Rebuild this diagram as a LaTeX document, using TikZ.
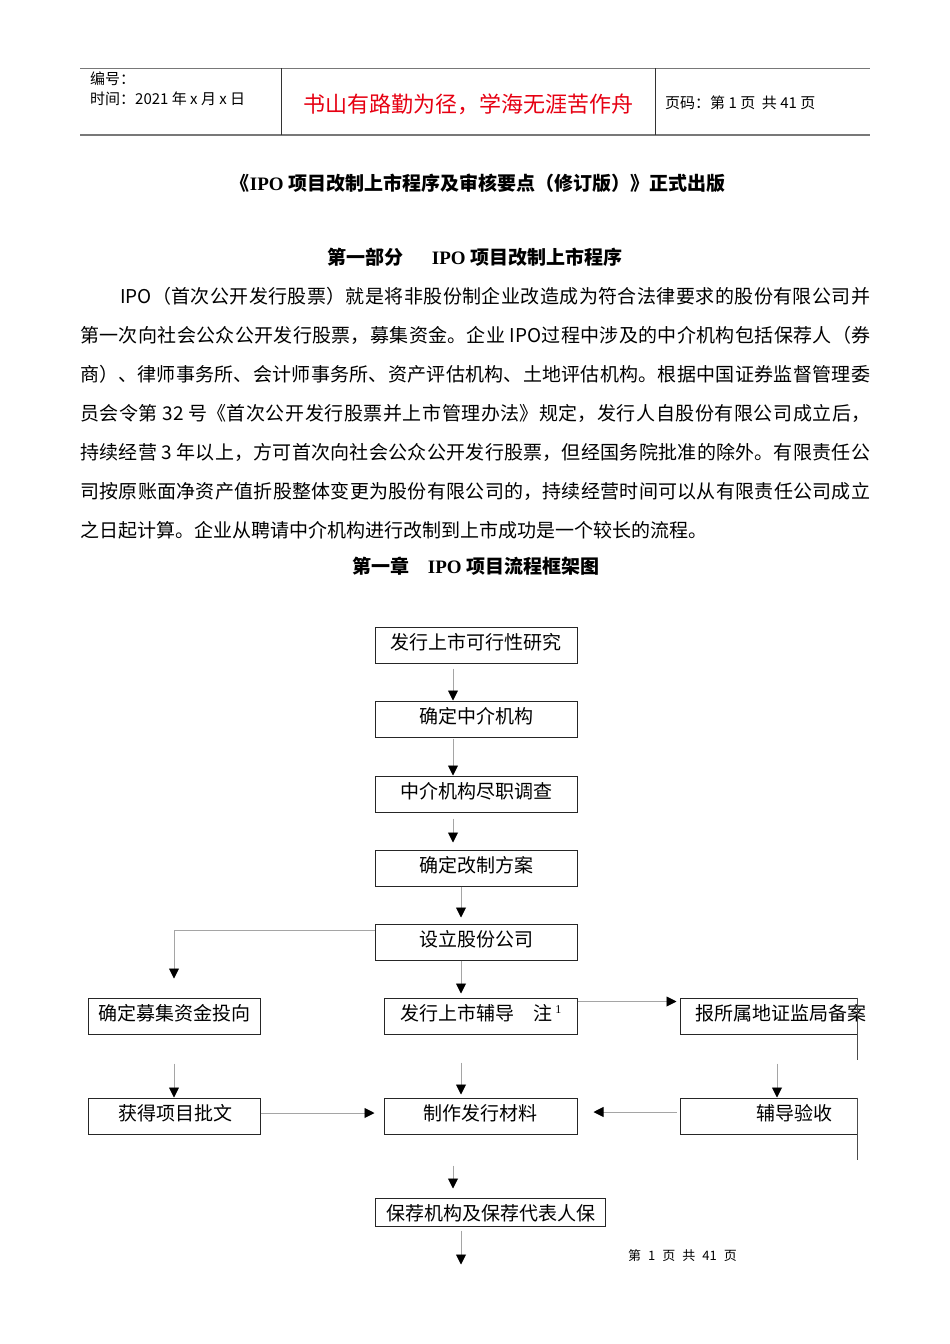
\documentclass[tikz,border=0pt]{standalone}
\usepackage{fontspec}
\setmainfont{Noto Sans CJK SC}
\newfontfamily\lser{Liberation Serif}
\XeTeXlinebreaklocale "zh"
\XeTeXlinebreakskip=0pt plus 3pt minus 0.6pt
\usetikzlibrary{arrows.meta}
\definecolor{hdrred}{RGB}{230,0,18}
\definecolor{rulegray}{RGB}{120,120,120}
\definecolor{arrgray}{RGB}{165,165,165}
\newcommand\jline[2]{\parbox{#1}{\parfillskip=0pt\tolerance=10000\hbadness=10000\noindent #2}}
\begin{document}
\begin{tikzpicture}[x=1pt,y=-1pt,
  box/.style={draw=black!85,line width=1pt,inner sep=0pt},
  lbl/.style={inner sep=0pt,font=\fontsize{19}{19}\selectfont},
  body/.style={inner sep=0pt,anchor=west,font=\fontsize{19}{19}\selectfont},
  hd/.style={inner sep=0pt,font=\fontsize{19}{19}\selectfont\bfseries},
  arr/.style={draw=arrgray,line width=0.9pt,-{Triangle[length=10pt,width=10pt,color=black]}},
  ln/.style={draw=arrgray,line width=0.9pt}]
\useasboundingbox (0,0) rectangle (950,1344);
% header
\draw[rulegray,line width=1pt] (80,68) -- (870,68);
\draw[rulegray,line width=2.2pt] (80,135) -- (870,135);
\draw[black!80,line width=1pt] (281,68) -- (281,135);
\draw[black!80,line width=1pt] (655,68) -- (655,135);
\node[inner sep=0pt,anchor=west,font=\fontsize{15}{15}\selectfont] (hno) at (90,79) {编号：};
\node[inner sep=0pt,anchor=west,font=\fontsize{15}{15}\selectfont] (hdate) at (90,99) {时间：2021 年 x 月 x 日};
\node[inner sep=0pt,text=hdrred,font=\fontsize{22}{22}\selectfont] (hmotto) at (468,104) {书山有路勤为径，学海无涯苦作舟};
\node[inner sep=0pt,anchor=west,font=\fontsize{15}{15}\selectfont] (hpage) at (665,103) {页码：第 1 页\ \ 共 41 页};
% titles
\node[hd] (title) at (478,183) {《{\lser IPO} 项目改制上市程序及审核要点（修订版）》正式出版};
\node[hd] (part) at (475,257) {第一部分\hspace{28pt}{\lser IPO} 项目改制上市程序};
% body
\node[body] (l1) at (120,296) {\jline{750pt}{IPO（首次公开发行股票）就是将非股份制企业改造成为符合法律要求的股份有限公司并}};
\node[body] (l2) at (80,335) {\jline{790pt}{第一次向社会公众公开发行股票，募集资金。企业 IPO过程中涉及的中介机构包括保荐人（券}};
\node[body] (l3) at (80,374) {\jline{790pt}{商）、律师事务所、会计师事务所、资产评估机构、土地评估机构。根据中国证券监督管理委}};
\node[body] (l4) at (80,413) {\jline{790pt}{员会令第 32 号《首次公开发行股票并上市管理办法》规定，发行人自股份有限公司成立后，}};
\node[body] (l5) at (80,452) {\jline{790pt}{持续经营 3 年以上，方可首次向社会公众公开发行股票，但经国务院批准的除外。有限责任公}};
\node[body] (l6) at (80,491) {\jline{790pt}{司按原账面净资产值折股整体变更为股份有限公司的，持续经营时间可以从有限责任公司成立}};
\node[body] (l7) at (80,530) {之日起计算。企业从聘请中介机构进行改制到上市成功是一个较长的流程。};
\node[hd] (chap) at (476,566) {第一章\hspace{18pt}{\lser IPO} 项目流程框架图};
% boxes
\node[box,minimum width=202pt,minimum height=36pt] (b1) at (476,645) {};
\node[box,minimum width=202pt,minimum height=36pt] (b2) at (476,719) {};
\node[box,minimum width=202pt,minimum height=36pt] (b3) at (476,794) {};
\node[box,minimum width=202pt,minimum height=36pt] (b4) at (476,868) {};
\node[box,minimum width=202pt,minimum height=36pt] (b5) at (476,942) {};
\node[box,minimum width=172pt,minimum height=36pt] (b6) at (174,1016) {};
\node[box,minimum width=193pt,minimum height=36pt] (b7) at (480.5,1016) {};
\node[box,minimum width=177pt,minimum height=36pt] (b8) at (768.5,1016) {};
\node[box,minimum width=172pt,minimum height=36pt] (b9) at (174,1116) {};
\node[box,minimum width=193pt,minimum height=36pt] (b10) at (480.5,1116) {};
\node[box,minimum width=177pt,minimum height=36pt] (b11) at (768.5,1116) {};
\node[box,minimum width=230pt,minimum height=28pt] (b12) at (490,1212) {};
% box texts
\node[lbl] (t1) at (476,642) {发行上市可行性研究};
\node[lbl] (t2) at (476,716) {确定中介机构};
\node[lbl] (t3) at (476,791) {中介机构尽职调查};
\node[lbl] (t4) at (476,865) {确定改制方案};
\node[lbl] (t5) at (476,939) {设立股份公司};
\node[lbl] (t6) at (174,1013) {确定募集资金投向};
\node[lbl,anchor=west] (t7) at (400,1013) {发行上市辅导\hspace{19pt}注\,\raisebox{7pt}{\fontsize{12}{12}\lser 1}};
\node[lbl,anchor=west] (t8) at (695,1013) {报所属地证监局备案};
\node[lbl] (t9) at (175,1113) {获得项目批文};
\node[lbl] (t10) at (480,1113) {制作发行材料};
\node[lbl] (t11) at (794,1113) {辅导验收};
\node[lbl] (t12) at (491,1213) {保荐机构及保荐代表人保};
% right-edge extensions
\draw[black!70,line width=1pt] (b8.north east) -- ++(0,62);
\draw[black!70,line width=1pt] (b11.north east) -- ++(0,62);
% connectors
\draw[arr,shorten <=5pt] ([xshift=-23pt]b1.south) -- ([xshift=-23pt]b2.north);
\draw[arr,shorten <=1pt] ([xshift=-23pt]b2.south) -- ([xshift=-23pt]b3.north);
\draw[arr,shorten <=6pt,shorten >=7pt] ([xshift=-23pt]b3.south) -- ([xshift=-23pt]b4.north);
\draw[arr,shorten >=6pt] ([xshift=-15pt]b4.south) -- ([xshift=-15pt]b5.north);
\draw[arr,shorten >=4pt] ([xshift=-15pt]b5.south) -- ([xshift=-19.5pt]b7.north);
\draw[arr,shorten >=19pt] ([yshift=-7pt]b5.north west) -| (b6.north);
\draw[arr,shorten >=3pt] ([yshift=-4pt]b7.north east) -- ([yshift=-4pt]b8.north west);
\draw[arr,shorten <=29pt] (b6.south) -- (b9.north);
\draw[arr,shorten <=28pt,shorten >=3pt] ([xshift=-19.5pt]b7.south) -- ([xshift=-19.5pt]b10.north);
\draw[arr,shorten <=29pt] ([xshift=8.5pt]b8.south) -- ([xshift=8.5pt]b11.north);
\draw[arr,shorten >=9pt] ([yshift=3pt]b9.east) -- ([yshift=3pt]b10.west);
\draw[arr,shorten <=3pt,shorten >=16pt] ([yshift=4pt]b11.west) -- ([yshift=4pt]b10.east);
\draw[arr,shorten <=31pt,shorten >=9pt] ([xshift=-27.5pt]b10.south) -- ([xshift=-37pt]b12.north);
\coordinate (end) at ([xshift=-29pt,yshift=-38pt]b12.south);
\draw[arr,shorten <=4pt] ([xshift=-29pt]b12.south) -- (end);
% footer
\node[inner sep=0pt,anchor=west,font=\fontsize{13}{13}\selectfont] (foot) at (628,1256) {第\hspace{7pt}1\hspace{7pt}页\hspace{7pt}共\hspace{7pt}41\hspace{7pt}页};
\end{tikzpicture}
\end{document}
